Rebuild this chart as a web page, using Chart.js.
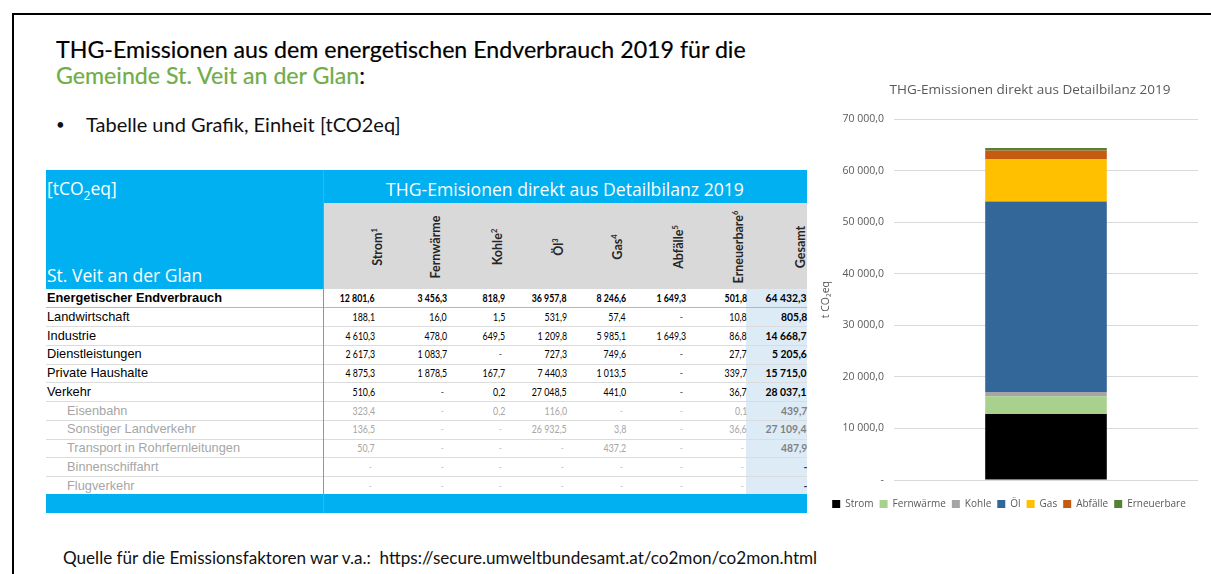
<!DOCTYPE html>
<html>
<head>
<meta charset="utf-8">
<script src="https://cdn.jsdelivr.net/npm/chart.js@4"></script>
<style>
  body { margin:0; width:1211px; height:574px; overflow:hidden; background:#fff; position:relative; font-family:Lato, sans-serif; }
  .abs { position:absolute; white-space:nowrap; }
  .frame { position:absolute; left:12px; top:13px; width:1199px; height:561px; border-top:2px solid #000; border-left:2px solid #000; }
  .num { position:absolute; font-family:Lato, sans-serif; font-size:11px; line-height:14px; text-align:right; white-space:nowrap; transform:scaleX(0.8); transform-origin:right center; }
  .num.tot { font-size:11.5px; transform:scaleX(0.9); }
  .lbl { position:absolute; font-family:"Liberation Sans", Arial, sans-serif; font-size:12.8px; line-height:14px; white-space:nowrap; }
  .hd { position:absolute; font-family:Lato, sans-serif; font-weight:bold; font-size:12.5px; color:#262626; white-space:nowrap; transform:translate(-50%,-50%) rotate(-90deg); }
  .hd sup { font-size:7.5px; vertical-align:5px; line-height:0; }
  .ttl { -webkit-text-stroke:0.2px currentColor; }
</style>
</head>
<body>
<div class="frame"></div>
<div class="abs ttl" style="left:56px; top:35px; font-size:23.2px; line-height:28px; color:#000;">THG-Emissionen aus dem energetischen Endverbrauch 2019 für die</div>
<div class="abs ttl" style="left:56px; top:61px; font-size:23.2px; line-height:28px; color:#70ad47;">Gemeinde St. Veit an der Glan<span style="color:#000">:</span></div>
<div class="abs" style="left:56px; top:112px; font-size:15px; line-height:24px; color:#111;">•</div>
<div class="abs" style="left:86px; top:111px; font-size:20px; line-height:26px; color:#111;">Tabelle und Grafik, Einheit [tCO2eq]</div>
<div class="abs" style="left:63px; top:547px; font-size:17.1px; line-height:22px; color:#111;">Quelle für die Emissionsfaktoren war v.a.:&nbsp; https://secure.umweltbundesamt.at/co2mon/co2mon.html</div>

<div id="tbl"></div>

<div style="position:absolute; left:820px; top:70px; width:391px; height:450px;">
  <canvas id="myChart" width="391" height="450"></canvas>
</div>

<script>
// categories (energy carriers)
const categories = ['Strom', 'Fernwärme', 'Kohle', 'Öl', 'Gas', 'Abfälle', 'Erneuerbare'];
const headNotes = ['1', '', '2', '3', '4', '5', '6', ''];
const colors = ['#000000', '#a9d18e', '#a5a5a5', '#336699', '#ffc000', '#c55a11', '#548235'];

// table rows: Strom, Fernwärme, Kohle, Öl, Gas, Abfälle, Erneuerbare, Gesamt (null = "-")
const endverbrauch   = [12801.6, 3456.3, 818.9, 36957.8, 8246.6, 1649.3, 501.8, 64432.3];
const landwirtschaft = [188.1, 16.0, 1.5, 531.9, 57.4, null, 10.8, 805.8];
const industrie      = [4610.3, 478.0, 649.5, 1209.8, 5985.1, 1649.3, 86.8, 14668.7];
const dienstleistung = [2617.3, 1083.7, null, 727.3, 749.6, null, 27.7, 5205.6];
const haushalte      = [4875.3, 1878.5, 167.7, 7440.3, 1013.5, null, 339.7, 15715.0];
const verkehr        = [510.6, null, 0.2, 27048.5, 441.0, null, 36.7, 28037.1];
const eisenbahn      = [323.4, null, 0.2, 116.0, null, null, 0.1, 439.7];
const landverkehr    = [136.5, null, null, 26932.5, 3.8, null, 36.6, 27109.4];
const rohrleitungen  = [50.7, null, null, null, 437.2, null, null, 487.9];
const schifffahrt    = [null, null, null, null, null, null, null, null];
const flugverkehr    = [null, null, null, null, null, null, null, null];

const rowLabels = ['Energetischer Endverbrauch', 'Landwirtschaft', 'Industrie', 'Dienstleistungen',
  'Private Haushalte', 'Verkehr', 'Eisenbahn', 'Sonstiger Landverkehr',
  'Transport in Rohrfernleitungen', 'Binnenschiffahrt', 'Flugverkehr'];
const tableRows = [endverbrauch, landwirtschaft, industrie, dienstleistung, haushalte, verkehr,
  eisenbahn, landverkehr, rohrleitungen, schifffahrt, flugverkehr];

// y axis ticks
const yTicks = [0, 10000, 20000, 30000, 40000, 50000, 60000, 70000];

function fmt(v) {
  if (v == null) return '-';
  const parts = v.toFixed(1).split('.');
  return parts[0].replace(/\B(?=(\d{3})+(?!\d))/g, '\u00a0') + ',' + parts[1];
}

// ---- table (HTML) ----
const tbl = document.getElementById('tbl');
function box(x, y, w, h, bg) {
  const d = document.createElement('div');
  d.style.cssText = `position:absolute;left:${x}px;top:${y}px;width:${w}px;height:${h}px;background:${bg}`;
  tbl.appendChild(d);
  return d;
}
function text(cls, html, css) {
  const d = document.createElement('div');
  d.className = cls;
  d.innerHTML = html;
  d.style.cssText += css;
  tbl.appendChild(d);
  return d;
}
box(46, 170, 761, 33, '#00b0f0');
box(46, 203, 277, 86, '#00b0f0');
box(323, 203, 484, 86, '#d9d9d9');
box(746, 289, 61, 206, '#ddebf7');
box(46, 494, 761, 19, '#00b0f0');
text('abs', '[tCO<sub style="font-size:12px">2</sub>eq]', 'left:47px;top:177px;font-family:"Open Sans",sans-serif;font-size:17.5px;line-height:22px;color:#fff;');
text('abs', 'St. Veit an der Glan', 'left:47px;top:264px;font-family:"Open Sans",sans-serif;font-size:17.5px;line-height:22px;color:#fff;');
text('abs', 'THG-Emisionen direkt aus Detailbilanz 2019', 'left:565px;top:177px;transform:translateX(-50%);font-family:"Open Sans",sans-serif;font-size:17.6px;line-height:24px;color:#fff;');

const numRight = [375, 447, 505, 567, 626, 686, 747, 807];
const headCenter = [377, 435, 497, 558, 617, 678, 738, 800];
const headLabels = categories.concat(['Gesamt']);
headLabels.forEach((h, i) => {
  const n = headNotes[i] ? '<sup>' + headNotes[i] + '</sup>' : '';
  text('hd', h + n, `left:${headCenter[i]}px;top:247px;`);
});

const rowH = 18.75;
tableRows.forEach((row, r) => {
  const cy = 298 + r * rowH;
  const sub = r >= 6;
  const sepY = cy + 9.4;
  if (r < tableRows.length - 1) box(46, sepY, 761, 1, r === 0 ? '#a9c48f' : '#dcdcdc');
  const lblColor = sub ? '#a6a6a6' : '#000';
  text('lbl', rowLabels[r], `left:${sub ? 67 : 47}px;top:${cy - 7}px;color:${lblColor};font-weight:${r === 0 ? 'bold' : 'normal'};`);
  row.forEach((v, c) => {
    const isTotal = c === row.length - 1;
    let color = sub ? '#a6a6a6' : '#000';
    if (isTotal && sub) color = v == null ? '#333' : '#808080';
    if (!isTotal && v == null) color = sub ? '#c8c8c8' : '#555';
    const bold = r === 0 || isTotal;
    const right = 1211 - numRight[c] + (v == null && !isTotal ? 3 : 0);
    text(isTotal ? 'num tot' : 'num', fmt(v), `right:${right}px;top:${cy - 7}px;color:${color};font-weight:${bold ? 'bold' : 'normal'};`);
  });
});
box(323, 170, 1, 343, '#7fa86a');

// ---- chart ----
const ctx = document.getElementById('myChart');
const datasets = categories.map((name, i) => ({
  label: name,
  data: [endverbrauch[i]],
  backgroundColor: colors[i],
  borderWidth: 0,
  barPercentage: 0.4,
  categoryPercentage: 1
}));

// Excel puts the title a bit right of the legend centre
const titleShift = {
  id: 'titleShift',
  afterLayout(chart) { if (chart.titleBlock) chart.titleBlock.left += 42; }
};

const myChart = new Chart(ctx, {
  type: 'bar',
  data: { labels: [''], datasets: datasets },
  plugins: [titleShift],
  options: {
    responsive: false,
    animation: false,
    layout: { padding: { left: 0, right: 13, bottom: 1 } },
    plugins: {
      title: {
        display: true,
        text: 'THG-Emissionen direkt aus Detailbilanz 2019',
        color: '#595959',
        font: { family: 'Open Sans', size: 13.5, weight: 'normal' },
        padding: { top: 12, bottom: 21 }
      },
      legend: {
        position: 'bottom',
        labels: {
          boxWidth: 8, boxHeight: 8, padding: 6,
          color: '#595959',
          font: { family: 'Open Sans', size: 10 }
        }
      },
      tooltip: { enabled: false }
    },
    scales: {
      x: {
        stacked: true,
        afterFit: (scale) => { scale.height = 13; },
        grid: { display: false },
        border: { display: false },
        ticks: { display: false }
      },
      y: {
        stacked: true,
        min: 0,
        max: 70000,
        afterFit: (scale) => { scale.width = 74; },
        afterBuildTicks: (scale) => { scale.ticks = yTicks.map(v => ({ value: v })); },
        ticks: {
          color: '#595959',
          font: { family: 'Open Sans', size: 10.5 },
          padding: 10,
          callback: (v) => v === 0 ? '-' : fmt(v)
        },
        grid: { color: '#d9d9d9', drawTicks: false },
        border: { display: false },
        title: {
          display: true,
          text: 't CO₂eq',
          color: '#595959',
          font: { family: 'Open Sans', size: 10.5 },
          padding: 0
        }
      }
    }
  }
});
</script>
</body>
</html>
